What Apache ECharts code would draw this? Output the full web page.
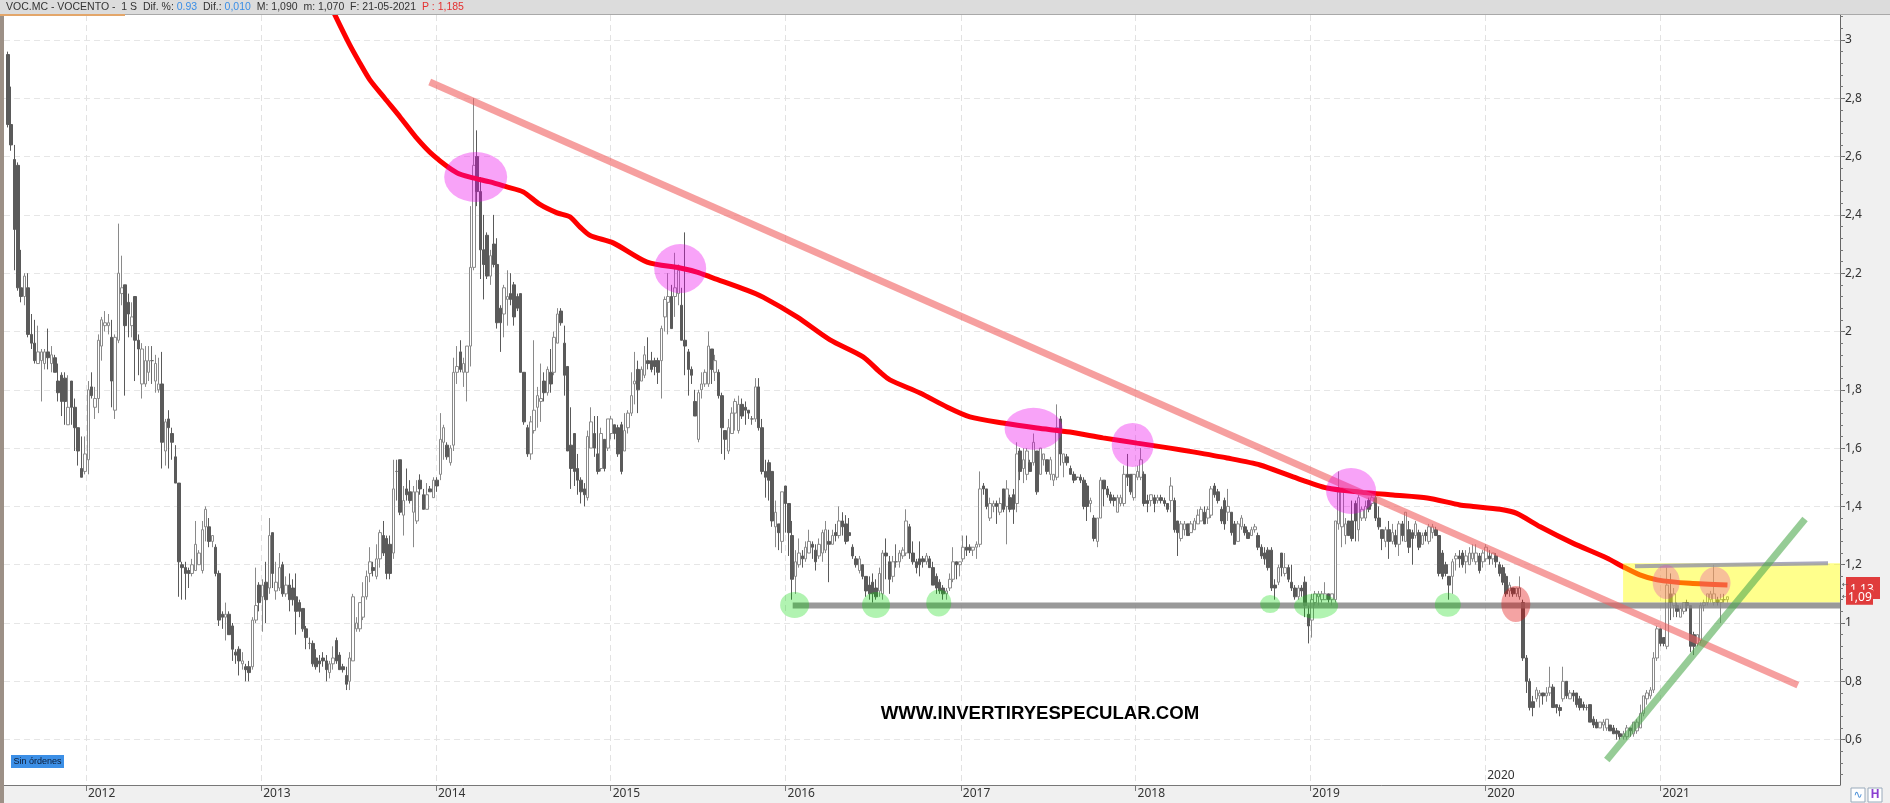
<!DOCTYPE html>
<html><head><meta charset="utf-8">
<script src="https://cdn.jsdelivr.net/npm/echarts@6/dist/echarts.min.js"></script>
<style>html,body{margin:0;padding:0;background:#fff}#c{width:1890px;height:803px}</style>
</head><body><div id="c"></div><script>
// ---------------- DATA ----------------
const firstWeek = '2011-07-22';   // weekly bars ("1 S")
const open = [
2.95,2.71,2.59,2.57,2.15,2.12,2.15,1.99,1.96,1.89, 1.90,1.89,1.93,1.89,1.91,1.83,1.85,1.84,1.68,1.83,
1.74,1.67,1.53,1.52,1.56,1.81,1.74,1.77,1.95,2.02, 2.02,1.98,1.73,1.97,2.13,2.16,2.10,2.02,2.12,1.97,
1.82,1.82,1.86,1.90,1.83,1.80,1.82,1.59,1.70,1.65, 1.57,1.48,1.20,1.19,1.18,1.17,1.18,1.20,1.18,1.33,
1.33,1.28,1.26,1.17,1.03,1.02,1.03,0.99,0.90,0.91, 0.86,0.85,0.85,0.85,1.01,1.13,1.09,1.14,1.12,1.31,
1.11,1.12,1.20,1.10,1.13,1.12,1.09,1.07,1.05,0.98, 0.93,0.93,0.88,0.87,0.88,0.87,0.83,0.86,0.94,0.89,
0.85,0.82,0.80,0.87,0.98,0.98,1.02,1.09,1.17,1.19, 1.16,1.22,1.30,1.29,1.27,1.24,1.52,1.56,1.37,1.46,
1.45,1.38,1.35,1.49,1.44,1.39,1.46,1.43,1.49,1.51, 1.62,1.61,1.55,1.61,1.86,1.93,1.86,1.86,1.95,2.22,
2.60,2.48,2.28,2.33,2.19,2.30,2.23,2.08,2.06,2.11, 2.13,2.16,2.12,2.13,1.86,1.67,1.58,1.66,1.74,1.76,
1.83,1.79,1.86,1.86,1.96,2.07,1.96,1.88,1.61,1.65, 1.53,1.49,1.46,1.43,1.60,1.65,1.58,1.53,1.63,1.60,
1.65,1.68,1.67,1.68,1.59,1.67,1.72,1.82,1.87,1.83, 1.85,1.90,1.90,1.90,1.90,1.90,2.05,2.10,2.12,2.12,
2.13,2.09,1.97,1.93,1.87,1.76,1.63,1.80,1.82,1.82, 1.94,1.86,1.86,1.78,1.66,1.59,1.65,1.72,1.66,1.75,
1.74,1.73,1.70,1.70,1.81,1.67,1.52,1.55,1.52,1.33, 1.34,1.28,1.47,1.41,1.30,1.16,1.20,1.23,1.22,1.24,
1.27,1.25,1.23,1.24,1.25,1.28,1.27,1.31,1.30,1.35, 1.34,1.31,1.26,1.22,1.18,1.20,1.16,1.13,1.14,1.12,
1.11,1.10,1.24,1.21,1.16,1.21,1.21,1.23,1.24,1.33, 1.24,1.21,1.22,1.22,1.21,1.22,1.19,1.16,1.14,1.12,
1.10,1.12,1.15,1.21,1.20,1.22,1.26,1.26,1.25,1.26, 1.27,1.47,1.46,1.36,1.40,1.41,1.38,1.46,1.40,1.43,
1.44,1.41,1.59,1.53,1.51,1.55,1.55,1.59,1.51,1.56, 1.56,1.51,1.49,1.50,1.70,1.55,1.57,1.53,1.51,1.50,
1.50,1.49,1.47,1.41,1.36,1.28,1.36,1.49,1.46,1.44, 1.43,1.38,1.41,1.41,1.51,1.51,1.43,1.50,1.50,1.51,
1.42,1.42,1.43,1.42,1.43,1.42,1.41,1.42,1.42,1.35, 1.29,1.32,1.34,1.31,1.32,1.34,1.35,1.38,1.36,1.37,
1.47,1.45,1.39,1.42,1.38,1.38,1.34,1.28,1.33,1.33, 1.31,1.30,1.32,1.30,1.26,1.24,1.25,1.25,1.13,1.14,
1.24,1.17,1.19,1.14,1.12,1.09,1.12,1.14,1.03,1.01, 1.07,1.09,1.08,1.08,1.10,1.08,1.08,1.34,1.33,1.30,
1.35,1.35,1.41,1.32,1.36,1.36,1.42,1.41,1.43,1.36, 1.32,1.28,1.32,1.28,1.30,1.27,1.34,1.28,1.32,1.31,
1.30,1.31,1.27,1.31,1.28,1.31,1.32,1.30,1.24,1.20, 1.16,1.16,1.22,1.23,1.24,1.21,1.20,1.22,1.21,1.23,
1.21,1.22,1.23,1.22,1.23,1.20,1.19,1.16,1.11,1.12, 1.10,1.09,1.07,0.88,0.80,0.73,0.74,0.75,0.76,0.75,
0.76,0.78,0.72,0.71,0.74,0.80,0.74,0.76,0.76,0.74, 0.72,0.71,0.72,0.67,0.66,0.64,0.65,0.64,0.65,0.64,
0.63,0.62,0.61,0.61,0.64,0.62,0.63,0.64,0.69,0.74, 0.75,0.77,0.88,0.98,0.95,0.92,1.10,1.06,1.06,1.02,
1.04,1.07,1.06,0.96,0.93,0.94,1.06,1.07,1.08,1.07, 1.08,1.07,1.08,1.08];
const close = [
2.71,2.64,2.35,2.15,2.12,2.19,1.99,1.96,1.90,1.93, 1.93,1.93,1.91,1.92,1.86,1.79,1.76,1.76,1.74,1.74,
1.67,1.59,1.50,1.58,1.80,1.78,1.77,1.97,2.04,2.03, 2.03,1.83,1.98,2.20,2.15,2.02,2.06,2.05,1.97,1.94,
1.94,1.90,1.90,1.90,1.89,1.82,1.62,1.69,1.67,1.62, 1.48,1.21,1.19,1.17,1.17,1.20,1.27,1.24,1.32,1.39,
1.28,1.30,1.17,1.01,1.02,1.03,0.96,0.91,0.89,0.87, 0.87,0.84,0.83,1.01,1.06,1.07,1.13,1.08,1.30,1.17,
1.14,1.19,1.10,1.13,1.08,1.08,1.04,1.04,0.98,0.95, 0.93,0.86,0.85,0.86,0.87,0.84,0.86,0.88,0.87,0.84,
0.84,0.79,0.88,1.09,1.00,1.07,1.09,1.16,1.21,1.18, 1.22,1.31,1.24,1.17,1.17,1.46,1.52,1.38,1.42,1.44,
1.42,1.45,1.45,1.46,1.39,1.44,1.45,1.49,1.47,1.63, 1.67,1.57,1.60,1.86,1.88,1.87,1.89,1.95,2.22,2.57,
2.48,2.28,2.23,2.19,2.26,2.23,2.03,2.03,2.15,2.12, 2.11,2.05,2.08,1.86,1.69,1.58,1.69,1.73,1.78,1.77,
1.79,1.87,1.82,1.98,2.06,2.03,1.85,1.59,1.53,1.52, 1.49,1.45,1.44,1.64,1.69,1.60,1.52,1.65,1.53,1.70,
1.70,1.65,1.58,1.52,1.66,1.72,1.78,1.83,1.80,1.87, 1.92,1.89,1.87,1.88,1.86,2.01,2.11,2.12,2.01,2.15,
2.21,1.97,1.95,1.87,1.85,1.71,1.79,1.82,1.86,1.95, 1.87,1.90,1.78,1.67,1.63,1.67,1.72,1.76,1.75,1.71,
1.73,1.72,1.70,1.81,1.67,1.52,1.50,1.49,1.35,1.38, 1.31,1.45,1.41,1.31,1.15,1.21,1.24,1.22,1.26,1.28,
1.26,1.21,1.27,1.31,1.32,1.27,1.30,1.30,1.35,1.33, 1.28,1.30,1.23,1.20,1.22,1.16,1.11,1.10,1.10,1.09,
1.17,1.24,1.23,1.15,1.21,1.21,1.24,1.25,1.35,1.24, 1.21,1.19,1.20,1.21,1.23,1.19,1.13,1.12,1.11,1.10,
1.11,1.15,1.21,1.20,1.21,1.26,1.25,1.25,1.26,1.27, 1.46,1.46,1.40,1.41,1.41,1.40,1.41,1.39,1.46,1.39,
1.39,1.58,1.52,1.56,1.59,1.52,1.62,1.45,1.60,1.58, 1.52,1.56,1.51,1.67,1.58,1.58,1.55,1.51,1.49,1.50,
1.49,1.40,1.40,1.42,1.29,1.36,1.49,1.46,1.44,1.42, 1.42,1.43,1.43,1.51,1.50,1.45,1.51,1.52,1.56,1.41,
1.41,1.44,1.41,1.43,1.42,1.41,1.39,1.47,1.32,1.31, 1.34,1.34,1.30,1.34,1.35,1.37,1.39,1.34,1.39,1.46,
1.44,1.42,1.35,1.34,1.40,1.31,1.27,1.34,1.36,1.31, 1.29,1.32,1.33,1.26,1.23,1.22,1.19,1.12,1.12,1.19,
1.19,1.19,1.15,1.12,1.09,1.12,1.11,1.06,0.99,1.08, 1.10,1.10,1.10,1.10,1.08,1.10,1.35,1.45,1.45,1.34,
1.30,1.29,1.35,1.43,1.39,1.40,1.39,1.43,1.36,1.33, 1.29,1.32,1.28,1.31,1.27,1.34,1.30,1.38,1.26,1.29,
1.34,1.26,1.30,1.30,1.33,1.33,1.30,1.17,1.16,1.17, 1.13,1.21,1.23,1.22,1.20,1.23,1.24,1.24,1.24,1.18,
1.24,1.26,1.22,1.24,1.21,1.17,1.14,1.10,1.13,1.10, 1.12,1.12,0.88,0.80,0.71,0.71,0.77,0.76,0.75,0.76,
0.78,0.71,0.71,0.70,0.80,0.75,0.76,0.75,0.72,0.71, 0.71,0.71,0.66,0.65,0.64,0.66,0.66,0.67,0.63,0.62,
0.62,0.61,0.62,0.64,0.63,0.66,0.66,0.69,0.75,0.76, 0.77,0.88,0.98,0.93,0.93,1.13,1.07,1.10,1.04,1.05,
1.07,1.06,0.92,0.92,0.96,1.06,1.07,1.10,1.10,1.10, 1.07,1.08,1.08,1.09];
const low = [
2.70,2.62,2.21,2.14,2.10,2.09,1.98,1.94,1.89,1.89, 1.76,1.87,1.87,1.86,1.86,1.76,1.71,1.68,1.68,1.68,
1.59,1.54,1.50,1.51,1.51,1.77,1.70,1.72,1.90,2.00, 1.99,1.74,1.70,1.96,2.09,1.78,1.98,1.98,1.83,1.85,
1.77,1.81,1.83,1.82,1.79,1.79,1.53,1.54,1.53,1.56, 1.48,1.09,1.08,1.08,1.12,1.16,1.18,1.20,1.17,1.28,
1.26,1.26,1.16,0.99,0.98,0.94,0.96,0.87,0.86,0.82, 0.84,0.80,0.80,0.84,1.00,1.04,0.97,1.00,1.10,1.12,
1.08,1.11,1.09,1.09,1.04,1.06,0.96,1.02,0.97,0.91, 0.91,0.85,0.84,0.83,0.85,0.80,0.81,0.84,0.86,0.84,
0.83,0.77,0.77,0.87,0.97,0.97,1.01,1.08,1.14,1.16, 1.15,1.19,1.23,1.15,1.15,1.22,1.42,1.37,1.30,1.42,
1.41,1.26,1.34,1.44,1.39,1.39,1.45,1.43,1.45,1.49, 1.56,1.56,1.54,1.59,1.82,1.86,1.81,1.76,1.88,2.21,
2.43,2.18,2.11,2.18,2.16,2.22,2.01,1.93,1.98,2.02, 2.09,2.02,2.07,1.86,1.68,1.57,1.56,1.65,1.67,1.69,
1.76,1.78,1.79,1.85,1.96,2.02,1.78,1.59,1.46,1.47, 1.44,1.41,1.40,1.42,1.60,1.57,1.51,1.52,1.52,1.59,
1.63,1.63,1.57,1.51,1.59,1.65,1.71,1.75,1.72,1.83, 1.84,1.87,1.86,1.85,1.82,1.77,2.00,1.99,2.01,2.05,
2.09,1.97,1.85,1.78,1.82,1.71,1.62,1.77,1.81,1.81, 1.82,1.83,1.77,1.58,1.56,1.58,1.65,1.66,1.65,1.70,
1.68,1.70,1.68,1.69,1.66,1.51,1.43,1.42,1.33,1.26, 1.25,1.24,1.31,1.23,1.08,1.10,1.19,1.19,1.21,1.24,
1.22,1.18,1.22,1.21,1.24,1.14,1.27,1.28,1.29,1.30, 1.27,1.28,1.22,1.19,1.17,1.15,1.09,1.08,1.07,1.08,
1.09,1.08,1.15,1.10,1.14,1.19,1.19,1.22,1.23,1.22, 1.20,1.17,1.16,1.19,1.20,1.19,1.13,1.10,1.10,1.08,
1.08,1.11,1.14,1.15,1.16,1.21,1.23,1.24,1.23,1.22, 1.26,1.44,1.39,1.35,1.38,1.34,1.37,1.38,1.27,1.38,
1.34,1.38,1.49,1.48,1.49,1.52,1.54,1.44,1.51,1.54, 1.51,1.49,1.47,1.49,1.54,1.50,1.54,1.51,1.48,1.49,
1.48,1.39,1.35,1.38,1.28,1.26,1.36,1.40,1.43,1.41, 1.40,1.38,1.40,1.40,1.47,1.44,1.42,1.49,1.49,1.40,
1.38,1.40,1.38,1.41,1.41,1.40,1.38,1.38,1.31,1.23, 1.28,1.30,1.30,1.31,1.32,1.34,1.35,1.34,1.34,1.36,
1.43,1.41,1.34,1.32,1.35,1.30,1.27,1.28,1.32,1.30, 1.29,1.30,1.31,1.25,1.22,1.20,1.18,1.11,1.08,1.13,
1.16,1.16,1.14,1.11,1.08,1.08,1.09,1.02,0.93,0.95, 1.06,1.06,1.07,1.08,1.07,1.06,1.07,1.32,1.26,1.27,
1.30,1.28,1.28,1.28,1.35,1.35,1.38,1.40,1.35,1.32, 1.25,1.26,1.22,1.27,1.26,1.23,1.28,1.28,1.24,1.20,
1.29,1.25,1.27,1.28,1.27,1.29,1.30,1.16,1.15,1.16, 1.08,1.10,1.18,1.19,1.19,1.17,1.20,1.21,1.20,1.17,
1.19,1.21,1.20,1.20,1.19,1.16,1.13,1.09,1.09,1.09, 1.09,1.08,0.87,0.76,0.70,0.68,0.73,0.71,0.72,0.73,
0.75,0.71,0.69,0.68,0.73,0.74,0.74,0.73,0.71,0.70, 0.70,0.70,0.66,0.64,0.64,0.64,0.63,0.63,0.63,0.62,
0.60,0.60,0.60,0.60,0.61,0.61,0.62,0.64,0.68,0.72, 0.74,0.76,0.87,0.92,0.92,0.91,1.01,1.02,1.02,1.02,
1.03,1.04,0.90,0.89,0.92,0.93,1.04,1.06,1.07,1.06, 1.06,1.00,1.07,1.07];
const high = [
2.96,2.84,2.64,2.58,2.28,2.20,2.20,2.06,2.04,2.02, 1.94,1.94,2.01,1.95,1.92,1.89,1.86,1.86,1.85,1.83,
1.77,1.67,1.64,1.64,1.83,1.86,1.81,1.99,2.05,2.07, 2.06,2.04,1.99,2.37,2.26,2.16,2.13,2.10,2.12,1.99,
1.96,1.95,1.95,1.95,1.92,1.91,1.93,1.70,1.73,1.67, 1.61,1.48,1.21,1.21,1.19,1.22,1.35,1.25,1.35,1.40,
1.36,1.30,1.27,1.18,1.04,1.07,1.04,1.00,0.91,0.92, 0.90,0.86,0.87,1.02,1.19,1.14,1.15,1.21,1.36,1.31,
1.21,1.24,1.21,1.16,1.17,1.15,1.17,1.08,1.05,0.99, 0.95,0.94,0.91,0.89,0.90,0.89,0.87,0.92,0.95,0.90,
0.86,0.85,0.90,1.10,1.02,1.07,1.14,1.18,1.26,1.21, 1.27,1.32,1.35,1.30,1.30,1.56,1.56,1.56,1.47,1.53,
1.49,1.47,1.49,1.51,1.46,1.48,1.47,1.50,1.50,1.72, 1.68,1.62,1.61,1.91,1.95,1.97,1.91,1.95,2.43,2.80,
2.69,2.53,2.40,2.34,2.28,2.40,2.32,2.09,2.16,2.21, 2.20,2.17,2.13,2.13,1.86,1.68,1.71,1.97,1.81,1.89,
1.86,1.88,1.94,2.00,2.08,2.08,2.02,1.88,1.74,1.65, 1.58,1.50,1.48,1.66,1.74,1.71,1.71,1.67,1.63,1.70,
1.71,1.68,1.68,1.69,1.72,1.73,1.86,1.93,1.90,1.88, 1.95,1.98,1.93,1.91,1.91,2.02,2.12,2.20,2.16,2.27,
2.23,2.15,2.34,1.94,1.88,1.80,1.80,1.86,1.87,2.00, 1.94,1.92,1.87,1.79,1.66,1.70,1.74,1.77,1.78,1.77,
1.76,1.73,1.71,1.84,1.84,1.70,1.56,1.56,1.52,1.42, 1.34,1.45,1.47,1.41,1.35,1.25,1.29,1.25,1.28,1.32,
1.28,1.27,1.29,1.32,1.35,1.32,1.32,1.34,1.40,1.38, 1.37,1.36,1.27,1.23,1.23,1.20,1.16,1.16,1.17,1.15,
1.19,1.25,1.29,1.23,1.23,1.27,1.25,1.26,1.39,1.34, 1.28,1.22,1.28,1.23,1.24,1.23,1.21,1.17,1.15,1.13,
1.12,1.17,1.26,1.21,1.21,1.30,1.30,1.27,1.26,1.28, 1.52,1.48,1.46,1.43,1.42,1.42,1.43,1.46,1.49,1.44,
1.46,1.62,1.60,1.60,1.60,1.56,1.65,1.59,1.60,1.58, 1.56,1.57,1.51,1.75,1.71,1.58,1.58,1.54,1.52,1.50,
1.51,1.50,1.48,1.43,1.37,1.36,1.50,1.49,1.47,1.45, 1.44,1.44,1.44,1.54,1.58,1.51,1.51,1.54,1.60,1.52,
1.44,1.44,1.44,1.44,1.44,1.43,1.41,1.50,1.43,1.35, 1.35,1.35,1.34,1.35,1.36,1.39,1.40,1.40,1.40,1.47,
1.48,1.46,1.40,1.43,1.46,1.38,1.35,1.35,1.37,1.34, 1.32,1.33,1.34,1.31,1.27,1.26,1.26,1.26,1.15,1.20,
1.24,1.24,1.20,1.20,1.13,1.13,1.13,1.16,1.06,1.10, 1.11,1.11,1.11,1.14,1.10,1.10,1.35,1.52,1.46,1.36,
1.35,1.42,1.42,1.44,1.40,1.42,1.43,1.44,1.44,1.40, 1.32,1.33,1.35,1.34,1.32,1.35,1.35,1.38,1.35,1.32,
1.35,1.32,1.31,1.32,1.34,1.34,1.33,1.30,1.25,1.21, 1.16,1.22,1.24,1.25,1.25,1.25,1.26,1.27,1.27,1.24,
1.25,1.27,1.25,1.24,1.24,1.21,1.20,1.17,1.14,1.12, 1.12,1.16,1.08,0.89,0.81,0.75,0.78,0.77,0.76,0.78,
0.85,0.79,0.72,0.72,0.85,0.80,0.77,0.77,0.76,0.75, 0.73,0.72,0.72,0.68,0.67,0.66,0.67,0.67,0.65,0.65,
0.64,0.63,0.63,0.65,0.64,0.66,0.67,0.72,0.75,0.77, 0.78,0.90,0.99,0.98,0.95,1.19,1.17,1.12,1.07,1.06,
1.07,1.08,1.06,0.97,0.96,1.07,1.08,1.10,1.11,1.20, 1.09,1.10,1.10,1.09];

// long moving average (red line)
const maDates = ['2013-05-20','2013-06-04','2013-07-05','2013-07-26','2013-08-16','2013-09-16','2013-10-18','2013-11-20','2013-12-26',
'2014-02-14','2014-03-19','2014-04-24','2014-05-29','2014-07-02','2014-08-06','2014-09-11','2014-10-08','2014-10-29','2014-11-19',
'2015-01-06','2015-03-18','2015-05-26','2015-06-30','2015-08-02','2015-10-12','2015-11-15',
'2016-01-25','2016-04-03','2016-06-11','2016-07-16','2016-08-06','2016-10-08','2016-12-03',
'2017-01-20','2017-03-30','2017-06-09','2017-08-17','2017-10-25',
'2018-01-04','2018-03-14','2018-05-01','2018-07-11','2018-09-18','2018-11-26',
'2019-02-05','2019-04-15','2019-06-23','2019-09-02','2019-11-09','2019-12-07',
'2020-02-01','2020-03-07','2020-04-25','2020-07-02','2020-09-11','2020-10-15','2020-11-19','2020-12-25',
'2021-03-04','2021-05-21'];
const maValues = [3.14,3.086,2.983,2.921,2.863,2.80,2.736,2.667,2.605,
2.544,2.527,2.513,2.496,2.479,2.436,2.407,2.393,2.358,2.329,
2.304,2.238,2.218,2.204,2.184,2.142,2.118,
2.050,1.971,1.913,1.861,1.834,1.789,1.741,
1.707,1.686,1.669,1.655,1.635,
1.617,1.600,1.587,1.566,1.542,1.501,
1.463,1.449,1.439,1.429,1.405,1.400,
1.390,1.376,1.330,1.274,1.223,1.193,1.165,1.148,
1.136,1.130];

// drawn annotations (dates / price levels)
const resistanceLine = [['2013-12-19', 2.856], ['2021-10-15', 0.787]];
const supportLine    = [['2020-09-11', 0.53],  ['2021-10-30', 1.357]];
const floorLevel     = [['2016-01-16', 1.06],  ['2022-01-11', 1.06]];
const ceilingLine    = [['2020-11-09', 1.195], ['2021-12-17', 1.205]];
const rangeBox       = ['2020-10-15', '2022-01-11', 1.07, 1.205];
const magentaMarks = [['2014-03-25',2.53],['2015-05-26',2.216],['2017-06-02',1.666],['2017-12-26',1.611],['2019-03-27',1.453]];
const greenMarks   = [['2016-01-20',1.062],['2016-07-08',1.062],['2016-11-16',1.069],['2018-10-09',1.065],['2019-01-13',1.058],['2019-10-15',1.063]];
const redMarks     = [['2020-03-05',1.065]];
const salmonMarks  = [['2021-01-13',1.141],['2021-04-25',1.137]];

const yearTicks = [2012,2013,2014,2015,2016,2017,2018,2019,2020,2021];
const yLabels = [0.6,0.8,1.0,1.2,1.4,1.6,1.8,2.0,2.2,2.4,2.6,2.8,3.0];
const axisMin = '2011-07-14', axisMax = '2022-01-11';
const yMin = 0.4443, yMax = 3.0857;

// ---------------- STYLE / SIZES ----------------
const magentaSizes = [[63,50],[52,49],[58,42],[42,44],[50,46]];
const greenSizes = [[29,26],[28,26],[25,27],[20,18],[44,25],[26,24]];
const redSizes = [[29,36]];
const salmonSizes = [[27,34],[31,32]];
const FONT = '"Noto Sans", "DejaVu Sans", sans-serif';

function ts(s){ const [y,m,d] = s.split('-').map(Number); return new Date(y, m-1, d).getTime(); }
const fw = firstWeek.split('-').map(Number);
const candles = open.map((o,i)=>[new Date(fw[0], fw[1]-1, fw[2] + 7*i).getTime(), o, close[i], low[i], high[i]]);
const ma = maDates.map((d,i)=>[ts(d), maValues[i]]);
const pts = arr => arr.map(p=>[ts(p[0]), p[1]]);
const marks = (arr, sizes) => arr.map((p,i)=>({value:[ts(p[0]), p[1]], symbolSize: sizes[i]}));
const minorTicks = []; for (let k = 12; k <= 77; k++) minorTicks.push(+(k*0.04).toFixed(2));
const yearTs = yearTicks.map(y=>new Date(y,0,1).getTime());

const chart = echarts.init(document.getElementById('c'), null, {renderer:'canvas'});
const lineS = (data, color, width, z) => ({type:'line', data: pts(data), symbol:'none', silent:true, z,
  lineStyle:{color, width, cap:'butt'}, animation:false});
const scatS = (arr, sizes, color, z) => ({type:'scatter', data: marks(arr, sizes), symbol:'circle', silent:true, z,
  itemStyle:{color}, animation:false});

chart.setOption({
  animation:false,
  backgroundColor:'#f0f0f0',
  textStyle:{fontFamily: FONT},
  grid:{left:4, right:50, top:15, bottom:18, show:true, backgroundColor:'#ffffff', borderWidth:0, containLabel:false, outerBoundsMode:'none'},
  xAxis:{type:'value', min: ts(axisMin), max: ts(axisMax), scale:true,
    axisLine:{show:true, lineStyle:{color:'#777', width:1}},
    axisTick:{show:true, customValues: yearTs, length:6, lineStyle:{color:'#777'}},
    axisLabel:{customValues: yearTs, formatter: v => String(new Date(v).getFullYear()), align:'left', margin:3,
      color:'#333', fontSize:12, fontFamily: FONT, hideOverlap:false, padding:[0,0,0,2]},
    splitLine:{show:true, lineStyle:{color:'#e2e2e2', type:[6,4], width:1}}},
  yAxis:[
    {type:'value', position:'right', min:yMin, max:yMax, scale:true,
      axisLine:{show:true, lineStyle:{color:'#666', width:1}},
      axisTick:{show:true, customValues: yLabels, length:5, lineStyle:{color:'#666'}},
      axisLabel:{customValues: yLabels, formatter: v => String(Math.round(v*10)/10).replace('.', ','),
        color:'#333', fontSize:12, fontFamily: FONT, margin:5},
      splitLine:{show:true, lineStyle:{color:'#e6e6e6', type:[6,4], width:1}}},
    {type:'value', position:'right', min:yMin, max:yMax, scale:true,
      axisLine:{show:false}, axisLabel:{show:false}, splitLine:{show:false},
      axisTick:{show:true, customValues: minorTicks, length:3, lineStyle:{color:'#777'}}}
  ],
  series:[
    {type:'candlestick', data: candles, encode:{x:0, y:[1,2,3,4]}, barWidth:3, silent:true, z:2,
      itemStyle:{color:'#ffffff', color0:'#5a5a5a', borderColor:'#8a8a8a', borderColor0:'#5a5a5a', borderColorDoji:'#6a6a6a', borderWidth:1}},
    {type:'line', data: ma, symbol:'none', smooth:0.25, silent:true, z:3, lineStyle:{color:'#ff0000', width:5}},
    {type:'custom', silent:true, z:4, data:[[ts(rangeBox[0]), ts(rangeBox[1]), rangeBox[2], rangeBox[3]]],
      encode:{x:[0,1], y:[2,3]},
      renderItem:(params, api)=>{
        const p1 = api.coord([api.value(0), api.value(3)]);
        const p2 = api.coord([api.value(1), api.value(2)]);
        return {type:'rect', shape:{x:p1[0], y:p1[1], width:p2[0]-p1[0], height:p2[1]-p1[1]},
          style:{fill:'rgba(255,255,0,0.45)'}};
      }},
    lineS(floorLevel, 'rgba(135,135,135,0.85)', 6, 5),
    lineS(ceilingLine, 'rgba(140,140,170,0.75)', 4, 5),
    lineS(resistanceLine, 'rgba(240,95,95,0.6)', 7, 6),
    lineS(supportLine, 'rgba(80,170,80,0.6)', 7, 6),
    scatS(magentaMarks, magentaSizes, 'rgba(235,0,235,0.45)', 7),
    scatS(greenMarks, greenSizes, 'rgba(0,215,0,0.38)', 7),
    scatS(redMarks, redSizes, 'rgba(225,0,0,0.45)', 7),
    scatS(salmonMarks, salmonSizes, 'rgba(230,60,180,0.4)', 7)
  ]
});

// ---------- overlays (frame, header, labels) ----------
const yPx = v => chart.convertToPixel({yAxisIndex:0}, v);
const xPx = d => chart.convertToPixel({xAxisIndex:0}, ts(d));
const yMaLast = yPx(maValues[maValues.length-1]);
const yCloseLast = yPx(close[close.length-1]);
const x2020 = xPx('2020-01-01');
chart.setOption({graphic:[
  {type:'rect', z:100, shape:{x:0, y:0, width:1890, height:15}, style:{fill:'#dcdcdc'}},
  {type:'rect', z:101, shape:{x:0, y:14, width:1890, height:1}, style:{fill:'#a9a9a9'}},
  {type:'rect', z:101, shape:{x:0, y:14, width:125, height:2}, style:{fill:'#e3a66a'}},
  {type:'text', z:102, x:6, y:7.5, style:{text:'VOC.MC - VOCENTO -  1 S  Dif. %: {b|0.93}  Dif.: {b|0,010}  M: 1,090  m: 1,070  F: 21-05-2021  {r|P : 1,185}',
    fill:'#333', font:'10.5px "Liberation Sans", Arial, sans-serif', verticalAlign:'middle',
    rich:{b:{fill:'#3a8ee6', font:'10.5px "Liberation Sans", Arial, sans-serif'}, r:{fill:'#e53030', font:'10.5px "Liberation Sans", Arial, sans-serif'}}}},
  {type:'rect', z:100, shape:{x:0, y:15, width:4, height:788}, style:{fill:'#9c9086'}},
  {type:'rect', z:100, shape:{x:11, y:755, width:53, height:13}, style:{fill:'#3c8fe6'}},
  {type:'text', z:101, x:37.5, y:761.5, style:{text:'Sin órdenes', fill:'#0d1b33', font:'9px "Liberation Sans", Arial, sans-serif', align:'center', verticalAlign:'middle'}},
  {type:'text', z:110, x:1040, y:714, style:{text:'WWW.INVERTIRYESPECULAR.COM', fill:'#000', font:'bold 18.6px "Liberation Sans", Arial, sans-serif', align:'center', verticalAlign:'middle'}},
  {type:'text', z:101, x:x2020+2, y:776, style:{text:'2020', fill:'#333', font:'12px ' + FONT, align:'left', verticalAlign:'middle'}},
  {type:'rect', z:100, shape:{x:1846, y:yMaLast-8, width:34, height:22}, style:{fill:'#e03c3c'}},
  {type:'text', z:101, x:1850, y:yMaLast+4, style:{text:'1,13', fill:'#fff', font:'12px ' + FONT, verticalAlign:'middle'}},
  {type:'rect', z:102, shape:{x:1846, y:yCloseLast-7, width:27, height:15}, style:{fill:'#e03c3c'}},
  {type:'text', z:103, x:1848, y:yCloseLast+0.5, style:{text:'1,09', fill:'#fff', font:'12px ' + FONT, verticalAlign:'middle'}},
  {type:'text', z:101, x:1842, y:yMaLast, style:{text:'←', fill:'#555', font:'8px ' + FONT, verticalAlign:'middle'}},
  {type:'text', z:101, x:1842, y:yCloseLast, style:{text:'←', fill:'#555', font:'8px ' + FONT, verticalAlign:'middle'}},
  {type:'rect', z:100, shape:{x:1851, y:788, width:14, height:14}, style:{fill:'#fff', stroke:'#9ab', lineWidth:1}},
  {type:'text', z:101, x:1858, y:795, style:{text:'∿', fill:'#4a90d9', font:'11px ' + FONT, align:'center', verticalAlign:'middle'}},
  {type:'rect', z:100, shape:{x:1868, y:788, width:14, height:14}, style:{fill:'#fff', stroke:'#9ab', lineWidth:1}},
  {type:'text', z:101, x:1875, y:795, style:{text:'H', fill:'#8a3fd1', font:'bold 12px ' + FONT, align:'center', verticalAlign:'middle'}}
]});
</script></body></html>
